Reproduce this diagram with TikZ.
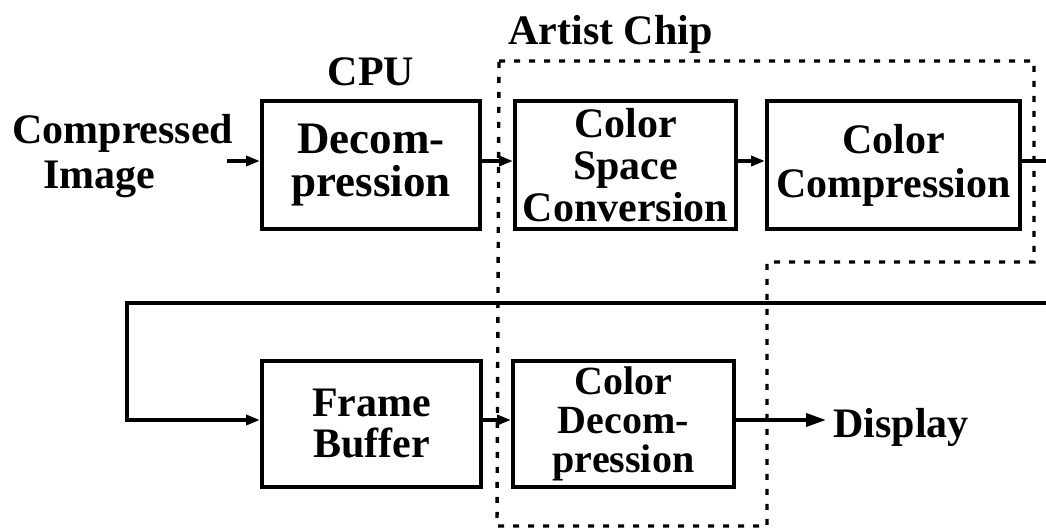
\documentclass[tikz,border=0pt]{standalone}
\usepackage{fontspec}
\setmainfont{Liberation Serif}
\usetikzlibrary{arrows.meta}
\begin{document}
\begin{tikzpicture}[x=0.5pt,y=-0.5pt,
  blk/.style={draw,line width=2pt,inner sep=0pt,align=center},
  txt/.style={font=\fontsize{21}{21}\bfseries,inner sep=0pt},
  wire/.style={line width=1.8pt},
  flow/.style={wire,-{Triangle[length=7pt,width=5pt]}},
  flowbig/.style={wire,-{Triangle[length=10pt,width=6.5pt]}},
  chip/.style={line width=1.7pt,dash pattern=on 3pt off 4.5pt}]
  \clip (0,0) rectangle (1046,528);

  % processing blocks
  \node[blk,minimum width=109pt,minimum height=64pt,font=\fontsize{22.5}{21.5}\bfseries]
    (dec) at (371,165) {Decom-\\pression};
  \node[blk,minimum width=110.5pt,minimum height=64pt,font=\fontsize{21}{21}\bfseries]
    (csc) at (625.5,165) {Color\\Space\\Conversion};
  \node[blk,minimum width=126.5pt,minimum height=64pt,font=\fontsize{21}{22}\bfseries]
    (cc) at (893.5,165) {Color\\Compression};
  \node[blk,minimum width=109.5pt,minimum height=63pt,font=\fontsize{21}{20.5}\bfseries]
    (fb) at (371.5,424) {Frame\\Buffer};
  \node[blk,minimum width=110.5pt,minimum height=63pt,font=\fontsize{20}{19.5}\bfseries]
    (cd) at (623.5,424) {Color\\Decom-\\pression};

  % labels
  \node[txt,anchor=base] (cpu) at (371,86) {CPU};
  \node[txt,anchor=base west] (artist) at (508,45) {Artist Chip};
  \node[txt,anchor=base west] (disp) at (833,438) {Display};
  \node[txt,align=left,anchor=north west,font=\fontsize{21}{22.5}\bfseries]
    (cimg) at (12,114) {Compressed\\\hspace*{15.5pt}Image};

  % chip boundary
  \draw[chip] (499,61) -- (1034,61) -- (1034,262) -- (767,262)
    -- (767,526) -- (497,526) -- cycle;

  % data flow
  \coordinate (cin) at (227,161);
  \coordinate (outR) at (1060,161);
  \coordinate (backR) at (1060,303);
  \coordinate (backL) at (127,303);
  \draw[flow] (cin) -- (cin -| dec.west);
  \draw[flow] ([yshift=2pt]dec.east) -- ([yshift=2pt]csc.west);
  \draw[flow] ([yshift=2pt]csc.east) -- ([yshift=2pt]cc.west);
  \draw[wire] ([yshift=2pt]cc.east) -- (outR);
  \draw[flow] (backR) -- (backL) |- ([yshift=2pt]fb.west);
  \draw[flow] ([yshift=2pt]fb.east) -- ([yshift=2pt]cd.west);
  \draw[flowbig,shorten >=3.5pt] ([yshift=2pt]cd.east) -- ([yshift=2pt]cd.east -| disp.west);
\end{tikzpicture}
\end{document}
